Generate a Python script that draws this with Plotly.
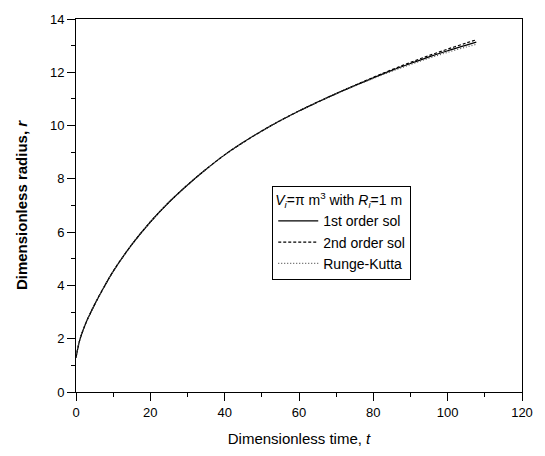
import plotly.graph_objects as go

# Dimensionless time and radius for the three solution methods
t_first = [0, 1, 2, 3, 5, 7.5, 10, 15, 20, 25, 30, 35, 40, 45, 50, 55, 60,
           65, 70, 75, 80, 85, 90, 95, 100, 105, 107.7]
r_first = [1.29, 1.95, 2.36, 2.70, 3.28, 3.93, 4.53, 5.53, 6.38, 7.12, 7.77, 8.36,
           8.90, 9.37, 9.80, 10.19, 10.55, 10.88, 11.20, 11.50, 11.79, 12.07,
           12.33, 12.58, 12.81, 13.02, 13.13]

t_second = [0, 1, 2, 3, 5, 7.5, 10, 15, 20, 25, 30, 35, 40, 45, 50, 55, 60,
            65, 70, 75, 80, 85, 90, 95, 100, 105, 107.7]
r_second = [1.29, 1.95, 2.36, 2.70, 3.28, 3.93, 4.53, 5.53, 6.38, 7.12, 7.77, 8.36,
            8.90, 9.37, 9.80, 10.19, 10.55, 10.88, 11.20, 11.51, 11.81, 12.10,
            12.37, 12.63, 12.87, 13.10, 13.22]

t_rk = [0, 1, 2, 3, 5, 7.5, 10, 15, 20, 25, 30, 35, 40, 45, 50, 55, 60,
        65, 70, 75, 80, 85, 90, 95, 100, 105, 107.7]
r_rk = [1.29, 1.95, 2.36, 2.70, 3.28, 3.93, 4.53, 5.53, 6.38, 7.12, 7.77, 8.36,
        8.90, 9.37, 9.80, 10.19, 10.55, 10.88, 11.19, 11.49, 11.77, 12.04,
        12.29, 12.53, 12.75, 12.95, 13.05]

x_ticks = [0, 20, 40, 60, 80, 100, 120]
y_ticks = [0, 2, 4, 6, 8, 10, 12, 14]

FONT = "Liberation Sans Narrow, Liberation Sans, Arial, sans-serif"
TITLE_FONT = "Liberation Sans, Arial, sans-serif"

fig = go.Figure()
fig.add_trace(go.Scatter(x=t_first, y=r_first, mode="lines", name="1st order sol",
                         line=dict(color="black", width=1.2, shape="spline", smoothing=1)))
fig.add_trace(go.Scatter(x=t_second, y=r_second, mode="lines", name="2nd order sol",
                         line=dict(color="black", width=1.2, dash="3px,2px",
                                   shape="spline", smoothing=1)))
fig.add_trace(go.Scatter(x=t_rk, y=r_rk, mode="lines", name="Runge-Kutta",
                         line=dict(color="#555555", width=1.2, dash="1px,2px",
                                   shape="spline", smoothing=1)))

axis_common = dict(
    showgrid=False, zeroline=False, showline=True, linecolor="black", linewidth=1,
    mirror=True, ticks="outside", ticklen=8, tickwidth=1, tickcolor="black",
    tickfont=dict(family=FONT, size=13, color="black"),
)

fig.update_xaxes(
    range=[0, 120], tickvals=x_ticks,
    minor=dict(dtick=10, ticks="outside", ticklen=4, tickcolor="black", tickwidth=1),
    title=dict(text="Dimensionless time, <i>t</i>",
               font=dict(family=TITLE_FONT, size=15, color="black"),
               standoff=14),
    **axis_common,
)
fig.update_yaxes(
    range=[0, 14], tickvals=y_ticks,
    minor=dict(dtick=1, ticks="outside", ticklen=4, tickcolor="black", tickwidth=1),
    title=dict(text="<b>Dimensionless radius, <i>r</i></b>",
               font=dict(family=TITLE_FONT, size=15, color="black"),
               standoff=18),
    **axis_common,
)

fig.update_layout(
    width=545, height=456,
    margin=dict(l=76, r=12, t=15, b=59),
    plot_bgcolor="white", paper_bgcolor="white",
    legend=dict(
        title=dict(text="<i>V<sub>i</sub></i>=π m<sup>3</sup> with <i>R<sub>i</sub></i>=1 m",
                   font=dict(family=TITLE_FONT, size=14, color="black")),
        x=0.44, y=0.552, xanchor="left", yanchor="top",
        bgcolor="white", bordercolor="black", borderwidth=1,
        font=dict(family=TITLE_FONT, size=14, color="black"),
        tracegroupgap=0, itemwidth=40,
    ),
)

fig.write_html("out.html")
